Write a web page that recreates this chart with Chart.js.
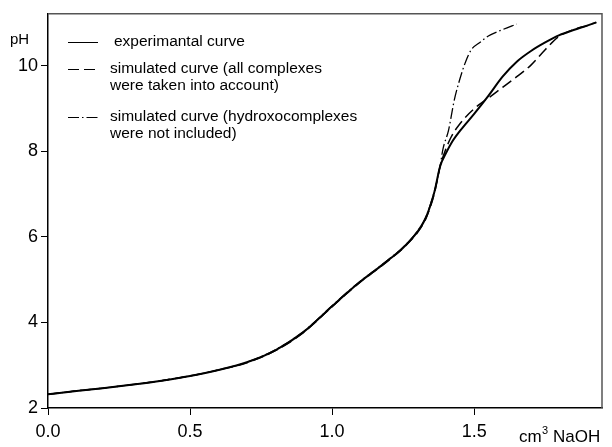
<!DOCTYPE html>
<html>
<head>
<meta charset="utf-8">
<script src="https://cdn.jsdelivr.net/npm/chart.js@4/dist/chart.umd.min.js"></script>
<style>
  html, body { margin: 0; padding: 0; background: #fff; }
  #wrap { width: 612px; height: 447px; }
</style>
</head>
<body>
<div id="wrap"><canvas id="c" width="612" height="447"></canvas></div>
<script>
// experimental titration curve
const expX = [0, 0.1, 0.2, 0.3, 0.4, 0.5, 0.6, 0.7, 0.8, 0.9, 1.0, 1.05, 1.1, 1.15, 1.2, 1.25, 1.3, 1.33, 1.36, 1.38,
    1.40, 1.42, 1.45, 1.5, 1.55, 1.6, 1.65, 1.7, 1.75, 1.8, 1.85, 1.9, 1.93];
const expPH = [2.32, 2.40, 2.47, 2.55, 2.64, 2.75, 2.89, 3.07, 3.35, 3.78, 4.38, 4.68, 4.96, 5.21, 5.47, 5.75, 6.12, 6.45, 7.05, 7.65,
    7.95, 8.2, 8.48, 8.88, 9.30, 9.75, 10.1, 10.35, 10.55, 10.72, 10.84, 10.95, 11.02];

// simulated, all complexes
const allX = [0, 0.1, 0.2, 0.3, 0.4, 0.5, 0.6, 0.7, 0.8, 0.9, 1.0, 1.05, 1.1, 1.15, 1.2, 1.25, 1.3, 1.33, 1.36, 1.38,
    1.40, 1.42, 1.45, 1.5, 1.55, 1.6, 1.65, 1.7, 1.75, 1.8, 1.85, 1.9, 1.93];
const allPH = [2.32, 2.40, 2.47, 2.55, 2.64, 2.75, 2.89, 3.06, 3.34, 3.77, 4.37, 4.67, 4.95, 5.20, 5.46, 5.74, 6.10, 6.43, 7.02, 7.65,
    8.05, 8.35, 8.65, 9.0, 9.25, 9.5, 9.75, 10.02, 10.38, 10.7, 10.85, 10.95, 11.02];

// simulated, without hydroxocomplexes
const noHydX = [0, 0.1, 0.2, 0.3, 0.4, 0.5, 0.6, 0.7, 0.8, 0.9, 1.0, 1.05, 1.1, 1.15, 1.2, 1.25, 1.3, 1.33, 1.36, 1.38,
    1.39, 1.41, 1.43, 1.45, 1.47, 1.49, 1.52, 1.55, 1.6, 1.65];
const noHydPH = [2.32, 2.40, 2.47, 2.55, 2.64, 2.75, 2.89, 3.07, 3.36, 3.79, 4.39, 4.69, 4.97, 5.22, 5.48, 5.76, 6.13, 6.47, 7.07, 7.65,
    8.05, 8.5, 9.2, 9.7, 10.1, 10.38, 10.55, 10.7, 10.85, 10.98];

const xTicks = [0, 0.5, 1.0, 1.5];
const yTicks = [2, 4, 6, 8, 10];

const labels = [
    ['experimantal curve'],
    ['simulated curve (all complexes', 'were taken into account)'],
    ['simulated curve (hydroxocomplexes', 'were not included)']
];

const FONT = '"Liberation Sans", Arial, sans-serif';

function pts(xs, ys) { return xs.map((x, i) => ({ x: x, y: ys[i] })); }

const decor = {
    id: 'decor',
    afterDraw(chart) {
        const ctx = chart.ctx;
        const a = chart.chartArea;
        ctx.save();
        // top and right frame
        ctx.strokeStyle = '#555';
        ctx.lineWidth = 1.5;
        ctx.beginPath();
        ctx.moveTo(a.left, a.top);
        ctx.lineTo(a.right, a.top);
        ctx.lineTo(a.right, a.bottom);
        ctx.stroke();

        // legend
        const rows = [42, 69, 117];
        const textX = [114, 110, 110];
        chart.data.datasets.forEach((ds, i) => {
            ctx.strokeStyle = '#000';
            ctx.lineWidth = 1;
            ctx.setLineDash(ds.borderDash || []);
            ctx.beginPath();
            ctx.moveTo(68, rows[i] + 0.5);
            ctx.lineTo(98, rows[i] + 0.5);
            ctx.stroke();
            ctx.setLineDash([]);
            ctx.fillStyle = '#000';
            ctx.font = '15.5px ' + FONT;
            ctx.textBaseline = 'middle';
            ctx.textAlign = 'left';
            labels[i].forEach((t, j) => ctx.fillText(t, textX[i], rows[i] + j * 16.5));
        });

        // axis titles
        ctx.font = '15px ' + FONT;
        ctx.textBaseline = 'alphabetic';
        ctx.fillText('pH', 10, 44);
        ctx.font = '17px ' + FONT;
        ctx.fillText('cm', 519, 442);
        ctx.font = '11px ' + FONT;
        ctx.fillText('3', 542, 434);
        ctx.font = '17px ' + FONT;
        ctx.fillText('NaOH', 553, 442);
        ctx.restore();
    }
};

new Chart(document.getElementById('c').getContext('2d'), {
    type: 'line',
    data: {
        datasets: [
            { data: pts(expX, expPH), borderColor: '#000', borderWidth: 2, borderDash: [], pointRadius: 0, fill: false, cubicInterpolationMode: 'monotone' },
            { data: pts(allX, allPH), borderColor: '#000', borderWidth: 1.5, borderDash: [11, 5], pointRadius: 0, fill: false, cubicInterpolationMode: 'monotone' },
            { data: pts(noHydX, noHydPH), borderColor: '#000', borderWidth: 1.3, borderDash: [11, 3, 1.5, 3], pointRadius: 0, fill: false, cubicInterpolationMode: 'monotone' }
        ]
    },
    options: {
        responsive: false,
        animation: false,
        layout: { padding: { top: 10, right: 10, left: 0, bottom: 0 } },
        plugins: { legend: { display: false }, tooltip: { enabled: false } },
        scales: {
            x: {
                type: 'linear',
                min: 0, max: 1.95,
                afterFit(s) { s.height = 39; },
                afterBuildTicks(s) { s.ticks = xTicks.map(v => ({ value: v })); },
                grid: { drawOnChartArea: false, drawTicks: true, tickLength: 7, color: '#000' },
                border: { display: true, color: '#000', width: 1.5 },
                ticks: { color: '#000', padding: 6, maxRotation: 0, font: { family: FONT, size: 18 }, callback: v => v.toFixed(1) }
            },
            y: {
                min: 2, max: 11.22,
                afterFit(s) { s.width = 48; },
                afterBuildTicks(s) { s.ticks = yTicks.map(v => ({ value: v })); },
                grid: { drawOnChartArea: false, drawTicks: true, tickLength: 7, color: '#000' },
                border: { display: true, color: '#000', width: 1.5 },
                ticks: { color: '#000', padding: 3, font: { family: FONT, size: 18 }, callback: v => String(v) }
            }
        }
    },
    plugins: [decor]
});
</script>
</body>
</html>
